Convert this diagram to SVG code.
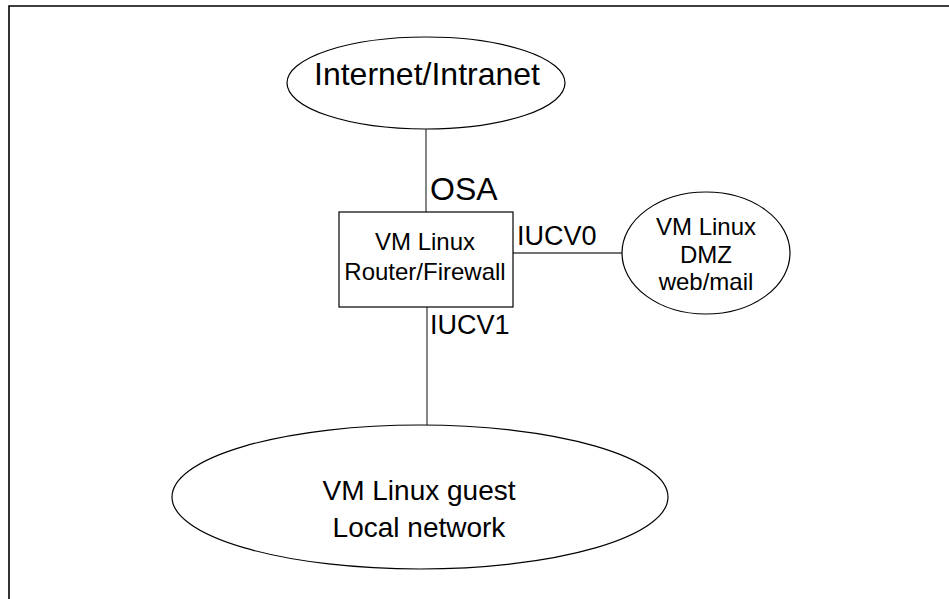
<svg xmlns="http://www.w3.org/2000/svg" width="949" height="599" viewBox="0 0 949 599">
<style>
.shape{fill:#fff;stroke:#000;stroke-width:1.2}
.conn{stroke:#444;stroke-width:1.3;fill:none}
.frame{stroke:#000;stroke-width:1.6;fill:none}
text{font-family:"Liberation Sans",Arial,sans-serif;fill:#000}
.c{text-anchor:middle}
</style>
<rect width="949" height="599" fill="#fff"/>
<path class="frame" d="M9,599 V6 H949"/>
<g id="connectors">
<line class="conn" x1="426" y1="129" x2="426" y2="212"/>
<line class="conn" x1="427" y1="307" x2="427" y2="425"/>
<line class="conn" x1="513" y1="253" x2="622" y2="253"/>
</g>
<g id="labels">
<text x="430" y="200" font-size="32">OSA</text>
<text x="517" y="245" font-size="27">IUCV0</text>
<text x="430" y="334" font-size="27">IUCV1</text>
</g>
<g id="internet">
<ellipse class="shape" cx="426" cy="83" rx="139" ry="46"/>
<text class="c" x="427" y="85" font-size="32">Internet/Intranet</text>
</g>
<g id="router">
<rect class="shape" x="339" y="212" width="174" height="95"/>
<text class="c" x="425" y="250" font-size="24">VM Linux</text>
<text class="c" x="425" y="280" font-size="24">Router/Firewall</text>
</g>
<g id="dmz">
<ellipse class="shape" cx="706" cy="253" rx="84" ry="61"/>
<text class="c" x="706" y="235" font-size="24">VM Linux</text>
<text class="c" x="706" y="263" font-size="24">DMZ</text>
<text class="c" x="706" y="290" font-size="24">web/mail</text>
</g>
<g id="guest">
<ellipse class="shape" cx="420" cy="497" rx="248" ry="72"/>
<text class="c" x="419" y="500" font-size="28">VM Linux guest</text>
<text class="c" x="419" y="537" font-size="28">Local network</text>
</g>
</svg>
